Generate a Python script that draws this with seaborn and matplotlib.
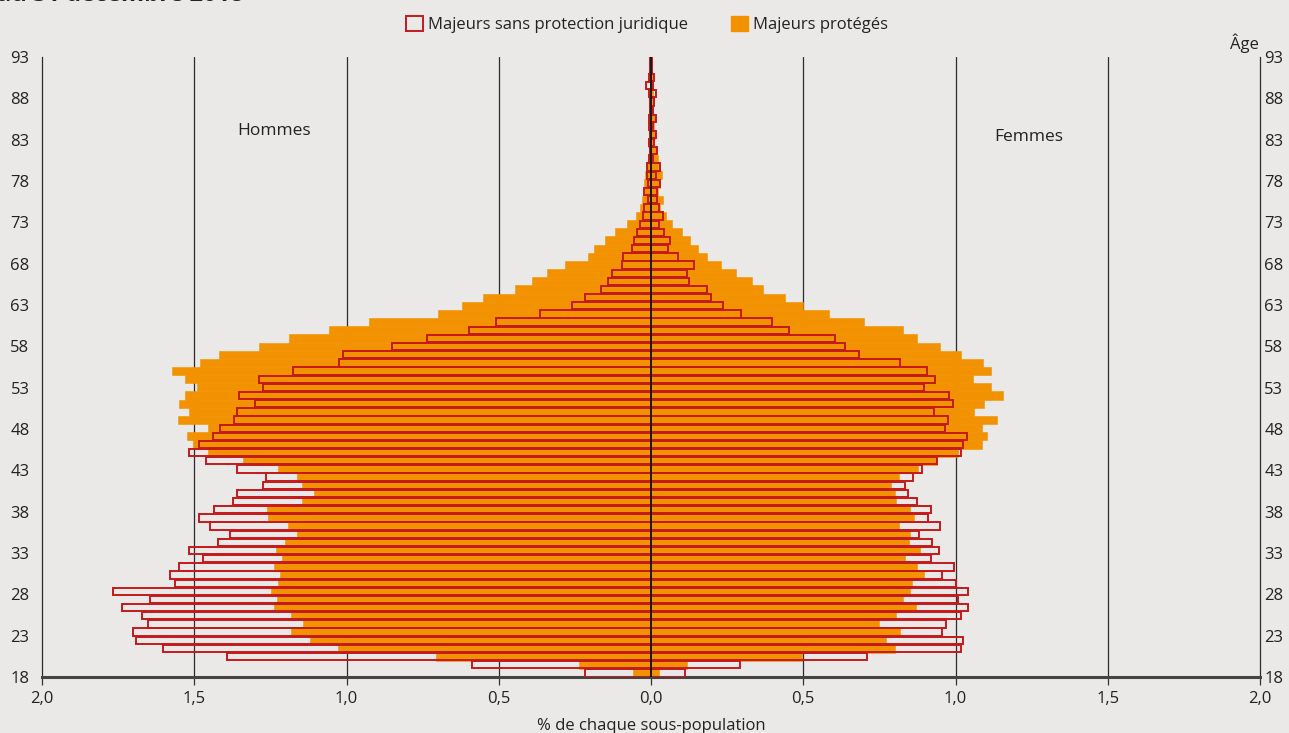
import matplotlib
matplotlib.use("Agg")
import matplotlib.pyplot as plt
from matplotlib.patches import Patch
import numpy as np
import pandas as pd
import seaborn as sns

sns.set_style("ticks")
plt.rcParams["font.family"] = ["Open Sans", "DejaVu Sans"]

BG = "#eae9e7"
ORANGE = "#f39200"
RED = "#c41a1c"

ages = list(range(18, 94))

# % of each sub-population, men (left) and women (right)
men_prot = [0.059, 0.237, 0.705, 1.027, 1.119, 1.183, 1.142, 1.183, 1.239, 1.229,
            1.247, 1.226, 1.220, 1.239, 1.211, 1.233, 1.202, 1.164, 1.193, 1.257,
            1.261, 1.147, 1.106, 1.147, 1.164, 1.225, 1.341, 1.456, 1.505, 1.523,
            1.455, 1.554, 1.518, 1.551, 1.532, 1.491, 1.532, 1.573, 1.482, 1.418,
            1.288, 1.189, 1.059, 0.926, 0.700, 0.622, 0.552, 0.448, 0.391, 0.342,
            0.281, 0.207, 0.188, 0.152, 0.119, 0.079, 0.050, 0.037, 0.028, 0.023,
            0.024, 0.019, 0.015, 0.010, 0.006, 0.010, 0.005, 0.004, 0.004, 0.003,
            0.003, 0.002, 0.003, 0.002, 0.001, 0.001]
men_sans = [0.217, 0.589, 1.394, 1.601, 1.692, 1.702, 1.651, 1.673, 1.738, 1.646,
            1.766, 1.564, 1.580, 1.550, 1.472, 1.517, 1.421, 1.383, 1.449, 1.485,
            1.435, 1.374, 1.360, 1.273, 1.264, 1.361, 1.462, 1.517, 1.485, 1.439,
            1.416, 1.370, 1.361, 1.302, 1.352, 1.273, 1.287, 1.177, 1.026, 1.012,
            0.851, 0.736, 0.597, 0.509, 0.363, 0.258, 0.216, 0.165, 0.141, 0.128,
            0.095, 0.091, 0.062, 0.055, 0.045, 0.035, 0.026, 0.023, 0.010, 0.022,
            0.010, 0.013, 0.012, 0.005, 0.003, 0.006, 0.004, 0.006, 0.005, 0.004,
            0.004, 0.008, 0.016, 0.006, 0.004, 0.003]
women_prot = [0.026, 0.119, 0.496, 0.800, 0.772, 0.818, 0.750, 0.805, 0.869, 0.828,
              0.851, 0.856, 0.897, 0.874, 0.833, 0.883, 0.847, 0.851, 0.814, 0.865,
              0.851, 0.805, 0.801, 0.787, 0.814, 0.878, 0.940, 1.009, 1.086, 1.102,
              1.086, 1.135, 1.062, 1.095, 1.155, 1.118, 1.059, 1.118, 1.089, 1.017,
              0.948, 0.874, 0.826, 0.698, 0.583, 0.500, 0.441, 0.367, 0.331, 0.280,
              0.230, 0.183, 0.155, 0.128, 0.101, 0.068, 0.049, 0.030, 0.040, 0.022,
              0.030, 0.035, 0.024, 0.022, 0.016, 0.011, 0.012, 0.010, 0.012, 0.007,
              0.010, 0.008, 0.006, 0.008, 0.004, 0.003]
women_sans = [0.113, 0.293, 0.710, 1.018, 1.024, 0.955, 0.969, 1.018, 1.041, 1.009,
              1.041, 1.000, 0.955, 0.996, 0.918, 0.946, 0.922, 0.881, 0.949, 0.909,
              0.918, 0.872, 0.845, 0.834, 0.862, 0.891, 0.940, 1.018, 1.026, 1.039,
              0.966, 0.974, 0.928, 0.992, 0.979, 0.895, 0.933, 0.905, 0.818, 0.684,
              0.638, 0.605, 0.453, 0.398, 0.297, 0.238, 0.196, 0.185, 0.126, 0.117,
              0.141, 0.090, 0.057, 0.062, 0.044, 0.026, 0.038, 0.026, 0.021, 0.021,
              0.030, 0.016, 0.030, 0.008, 0.021, 0.010, 0.016, 0.008, 0.016, 0.007,
              0.010, 0.016, 0.006, 0.011, 0.004, 0.003]

tick_ages = list(range(18, 94, 5))
x_ticks = [-2.0, -1.5, -1.0, -0.5, 0.0, 0.5, 1.0, 1.5, 2.0]

n = len(ages)
df = pd.DataFrame({
    "pos": np.arange(n),
    "men_prot": -np.array(men_prot),
    "men_sans": -np.array(men_sans),
    "women_prot": women_prot,
    "women_sans": women_sans,
})

fig = plt.figure(figsize=(12.89, 7.33), dpi=100, facecolor=BG)
ax = fig.add_axes([42 / 1289, 56 / 733, 1218 / 1289, 620 / 733])
ax.set_facecolor(BG)

# grid lines behind the bars
for v in [-1.5, -1.0, -0.5, 0.5, 1.0, 1.5]:
    ax.axvline(v, color="#2b2b2b", lw=0.9, zorder=0)

for col in ["men_prot", "women_prot"]:
    sns.barplot(data=df, x=col, y="pos", orient="y", native_scale=True,
                width=1.0, color=ORANGE, saturation=1, linewidth=0.4,
                edgecolor=ORANGE, errorbar=None, ax=ax, zorder=2)
for col in ["men_sans", "women_sans"]:
    sns.barplot(data=df, x=col, y="pos", orient="y", native_scale=True,
                width=0.9, fill=False, color=RED, saturation=1, linewidth=1.4,
                errorbar=None, ax=ax, zorder=3)

ax.axvline(0, color="#1a1a1a", lw=1.4, zorder=4)

ax.set_xlim(-2, 2)
ax.set_ylim(-0.5, n - 0.5)
tick_pos = [-0.5 + (a - 18) * n / 75 for a in tick_ages]
ax.set_yticks(tick_pos)
ax.set_yticklabels([str(a) for a in tick_ages])
ax.set_xticks(x_ticks)
ax.set_xticklabels([f"{abs(v):.1f}".replace(".", ",") for v in x_ticks])
ax.tick_params(axis="y", length=0, pad=9, labelsize=12, labelcolor="#222")
ax.tick_params(axis="x", length=6, width=0.9, color="#333", pad=4,
               labelsize=12, labelcolor="#222", direction="out")
ax.set_ylabel("")
ax.set_xlabel("% de chaque sous-population", fontsize=12, color="#222", labelpad=8)

for side in ["left", "right"]:
    ax.spines[side].set_color("#2b2b2b")
    ax.spines[side].set_linewidth(0.9)
ax.spines["top"].set_visible(False)
ax.spines["bottom"].set_color("#444")
ax.spines["bottom"].set_linewidth(2.2)

ax2 = ax.twinx()
ax2.set_ylim(ax.get_ylim())
ax2.set_yticks(tick_pos)
ax2.set_yticklabels([str(a) for a in tick_ages])
ax2.tick_params(axis="y", length=0, pad=3, labelsize=12, labelcolor="#222")
for s in ax2.spines.values():
    s.set_visible(False)

ax.text(-1.238, 66.4, "Hommes", ha="center", va="center", fontsize=12.5, color="#222")
ax.text(1.241, 65.7, "Femmes", ha="center", va="center", fontsize=12.5, color="#222")
ax.text(0.987, 1.022, "Âge", transform=ax.transAxes, ha="center", va="center",
        fontsize=12, color="#222")

handles = [Patch(facecolor="none", edgecolor=RED, linewidth=1.4),
           Patch(facecolor=ORANGE, edgecolor=ORANGE)]
fig.legend(handles, ["Majeurs sans protection juridique", "Majeurs protégés"],
           loc="center", bbox_to_anchor=(0.502, 0.967), ncol=2, frameon=False,
           fontsize=12, handlelength=1.0, handleheight=1.0, handletextpad=0.3,
           columnspacing=2.6, labelcolor="#222")

fig.text(-0.002, 1.007, "au 31 décembre 2018", ha="left", va="center",
         fontsize=17, fontweight="bold", color="#222")

fig.savefig("out.png", dpi=100, facecolor=BG)
